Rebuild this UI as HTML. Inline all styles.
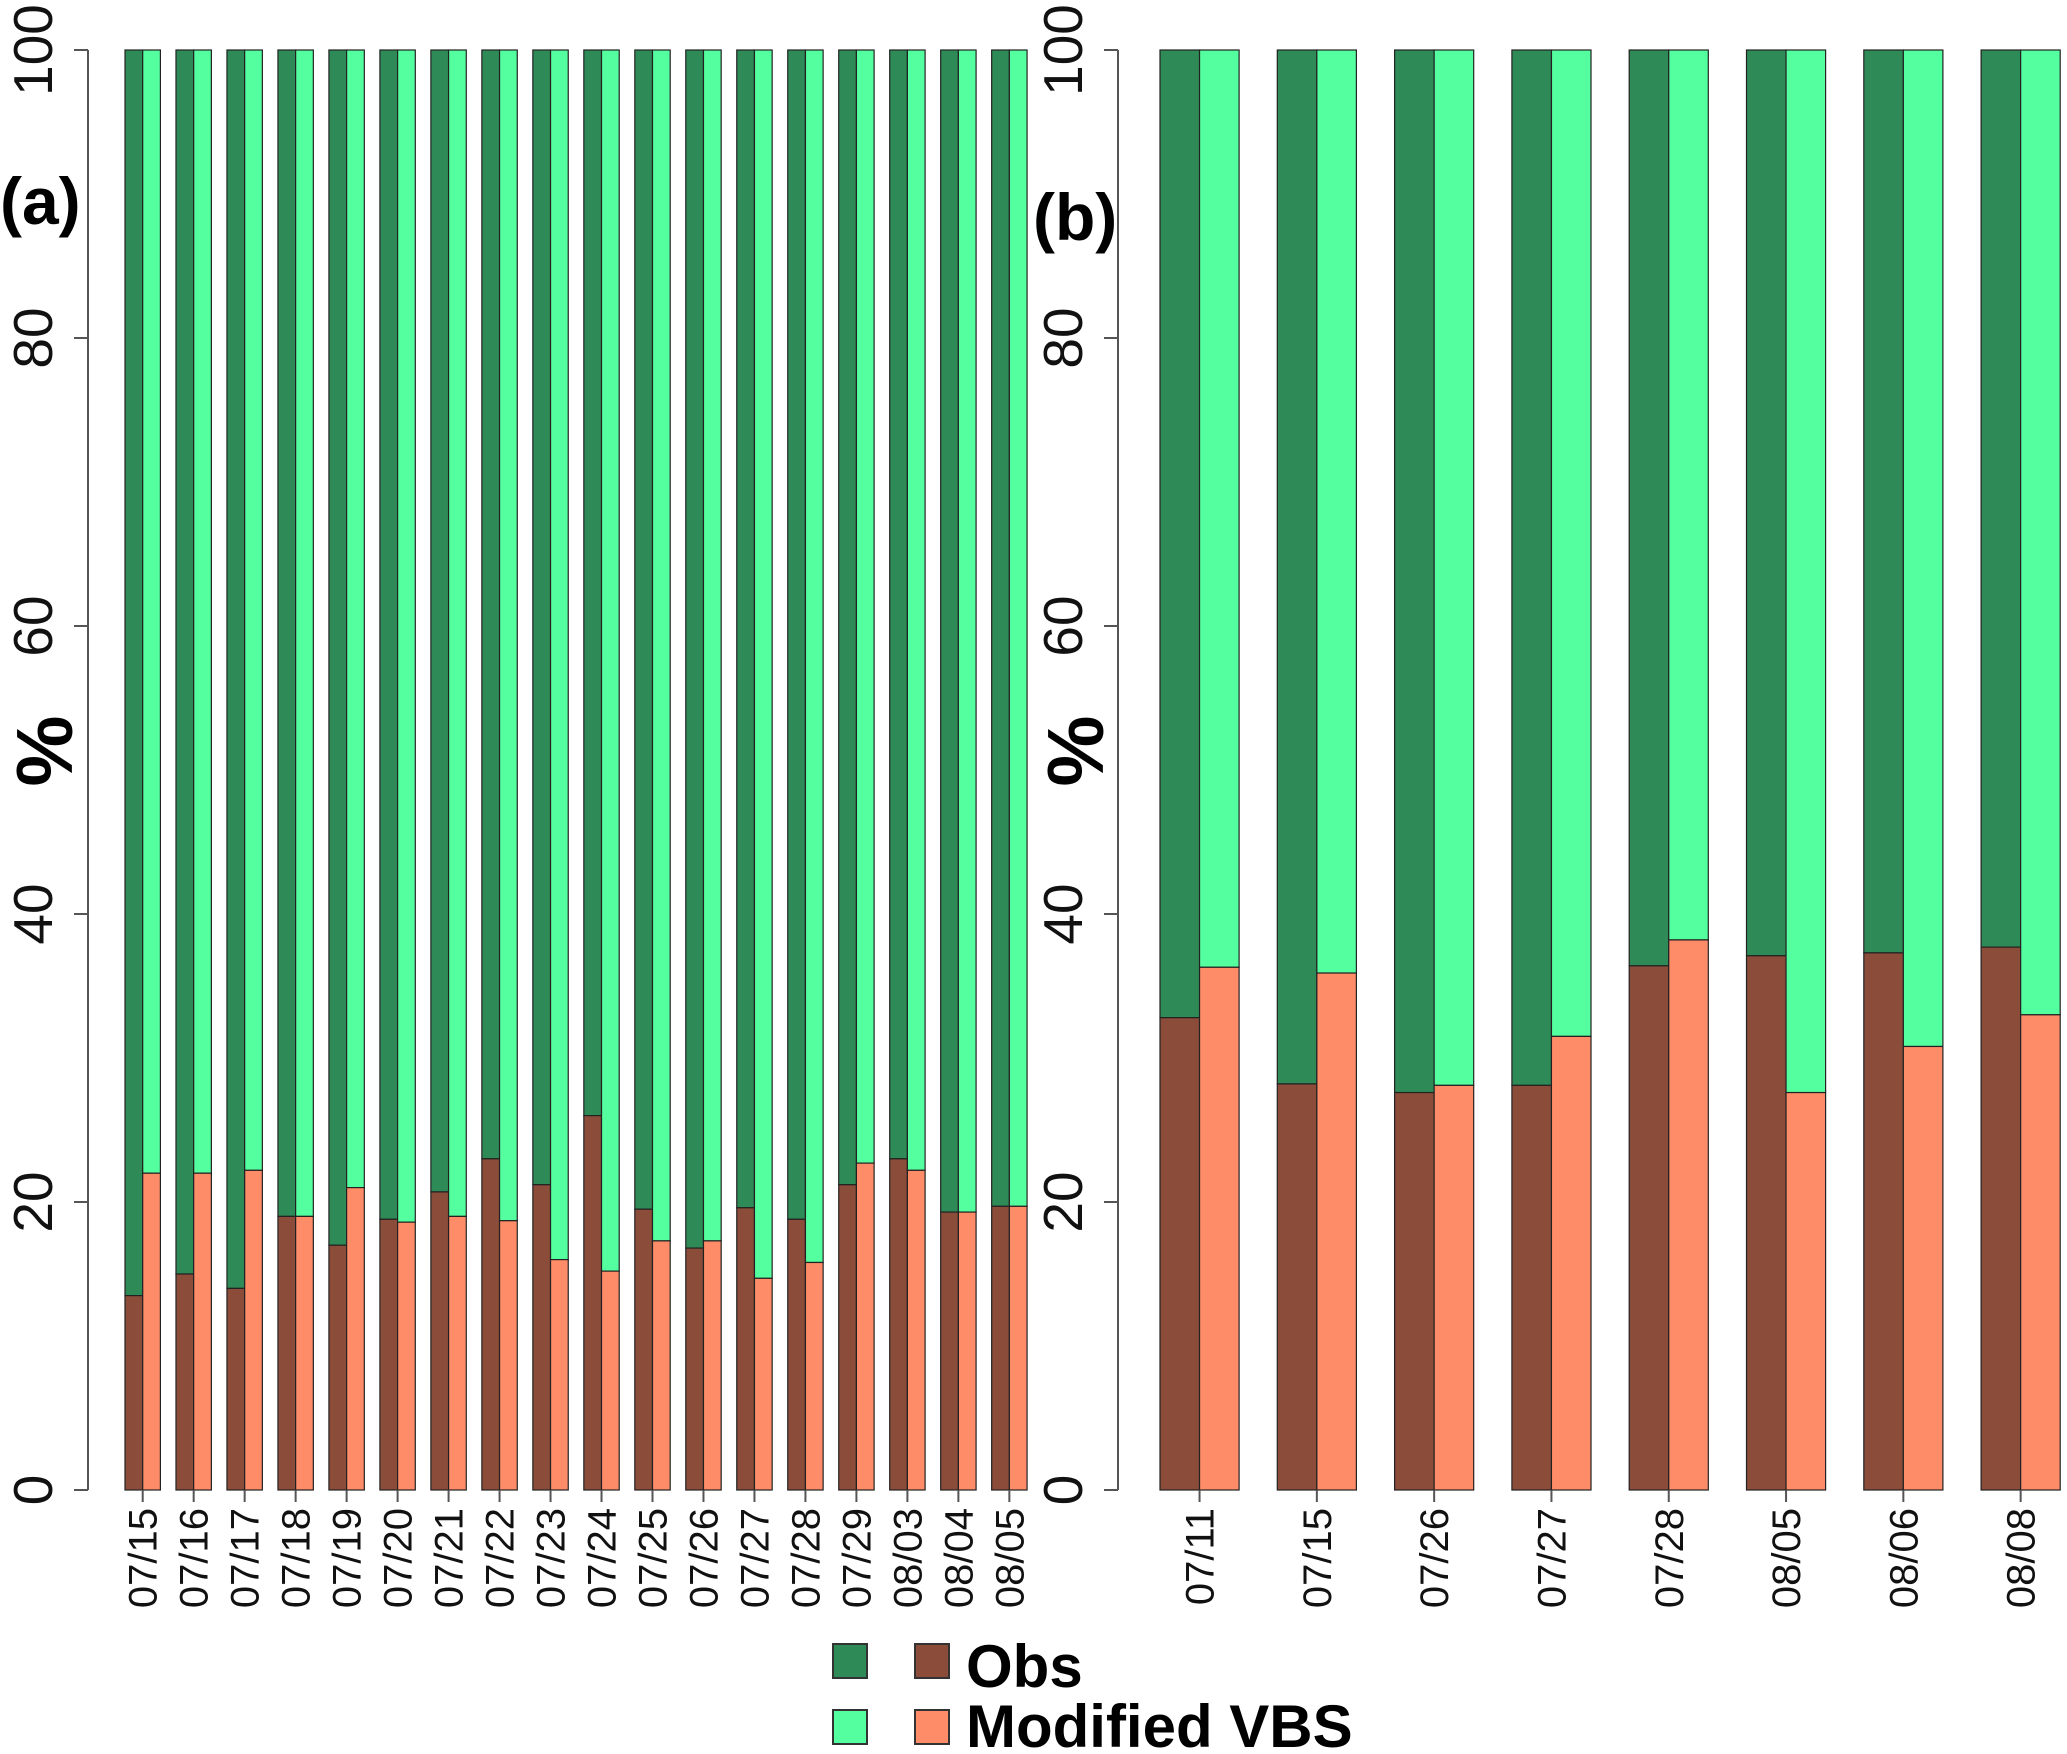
<!DOCTYPE html>
<html><head><meta charset="utf-8"><style>body{margin:0;background:#fff}svg{display:block}</style></head>
<body>
<svg id="c" width="2067" height="1754" viewBox="0 0 2067 1754" xmlns="http://www.w3.org/2000/svg" font-family="'Liberation Sans', sans-serif"></svg>
<script>
const catsA=["07/15","07/16","07/17","07/18","07/19","07/20","07/21","07/22","07/23","07/24","07/25","07/26","07/27","07/28","07/29","08/03","08/04","08/05"];
const obsA=[13.5,15,14,19,17,18.8,20.7,23,21.2,26,19.5,16.8,19.6,18.8,21.2,23,19.3,19.7];
const modA=[22,22,22.2,19,21,18.6,19,18.7,16,15.2,17.3,17.3,14.7,15.8,22.7,22.2,19.3,19.7];
const catsB=["07/11","07/15","07/26","07/27","07/28","08/05","08/06","08/08"];
const obsB=[32.8,28.2,27.6,28.1,36.4,37.1,37.3,37.7];
const modB=[36.3,35.9,28.1,31.5,38.2,27.6,30.8,33];
const yTicks=[0,20,40,60,80,100];
const NS="http://www.w3.org/2000/svg",svg=document.getElementById('c');
function mk(t,a,p){const e=document.createElementNS(NS,t);for(const k in a)e.setAttribute(k,a[k]);(p||svg).appendChild(e);return e;}
const y0=1490,y1=50;const Y=v=>y0-(y0-y1)*v/100;
function panel(id,cats,obs,mod,axisX,left,pitch,w,lbl,lblX,lblY,pctX){
  const g=mk('g',{});
  
  
  const ax=mk('line',{x1:axisX,y1:Y(0),x2:axisX,y2:Y(100),stroke:'#555','stroke-width':2},g);
  
  
  yTicks.forEach(t=>{
    const tk=mk('line',{x1:axisX-14,y1:Y(t),x2:axisX,y2:Y(t),stroke:'#555','stroke-width':2},g);
    
    
    const tx=mk('text',{x:0,y:0,'font-size':55,'text-anchor':'middle',transform:`translate(${axisX-36},${Y(t)}) rotate(-90)`,fill:'#111'},g);
    tx.textContent=t;
    
    
  });
  cats.forEach((c,i)=>{
    const x=left+i*pitch,hw=w/2;
    [[obs[i],'#2E8B57','#8B4C39',x,'obs'],[mod[i],'#54FF9F','#FF8C69',x+hw,'mod']].forEach(([v,top,bot,bx,s])=>{
      const r1=mk('rect',{x:bx,y:Y(100),width:hw,height:Y(v)-Y(100),fill:top,stroke:'#222','stroke-width':1.2},g);
      
      
      const r2=mk('rect',{x:bx,y:Y(v),width:hw,height:Y(0)-Y(v),fill:bot,stroke:'#222','stroke-width':1.2},g);
      
      
    });
    const tk=mk('line',{x1:x+hw,y1:Y(0),x2:x+hw,y2:Y(0)+12,stroke:'#555','stroke-width':2},g);
    
    
    const tx=mk('text',{x:0,y:0,'font-size':40,'text-anchor':'end',transform:`translate(${x+hw+14},${Y(0)+18}) rotate(-90)`,fill:'#111'},g);
    tx.textContent=c;
    
    
  });
  const l=mk('text',{x:lblX,y:lblY,'font-size':66,'font-weight':'bold',fill:'#000'},g);
  l.textContent=lbl;
  
  
  const p=mk('text',{x:0,y:0,'font-size':80,'font-weight':'bold','text-anchor':'middle',transform:`translate(${pctX},751) rotate(-90)`,fill:'#000'},g);
  p.textContent='%';
  
  
}
panel('a',catsA,obsA,modA,88,125,50.98,35.4,'(a)',0,224,72);
panel('b',catsB,obsB,modB,1118,1160,117.3,79.1,'(b)',1033,240,1103);
const lg=mk('g',{});


[[833,1644,'#2E8B57'],[833,1710,'#54FF9F'],[915,1644,'#8B4C39'],[915,1710,'#FF8C69']].forEach(([x,y,f])=>{
  const r=mk('rect',{x,y,width:34,height:34,fill:f,stroke:'#333','stroke-width':2},lg);
  
  
});
const t1=mk('text',{x:966,y:1687,'font-size':60,'font-weight':'bold'},lg);t1.textContent='Obs';


const t2=mk('text',{x:966,y:1747,'font-size':60,'font-weight':'bold'},lg);t2.textContent='Modified VBS';


</script>
</body></html>
